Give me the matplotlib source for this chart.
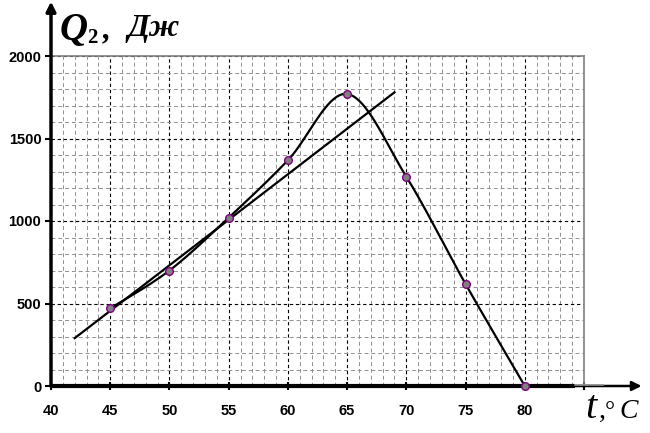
import numpy as np
import matplotlib.pyplot as plt
from matplotlib.ticker import MultipleLocator

# Data
temps = [45, 50, 55, 60, 65, 70, 75, 80]
heat = [470, 700, 1020, 1368, 1770, 1268, 618, 0]
trend_t = [42, 69]
trend_q = [290, 1780]


def smooth(xs, ys, n=40):
    # Excel-like smoothed line (Bezier through points)
    p = np.column_stack([xs, ys]).astype(float)
    p = np.vstack([p[0], p, p[-1]])
    out = []
    for i in range(1, len(p) - 2):
        p0, p1, p2, p3 = p[i - 1], p[i], p[i + 1], p[i + 2]
        c1 = p1 + (p2 - p0) / 6
        c2 = p2 - (p3 - p1) / 6
        s = np.linspace(0, 1, n)[:, None]
        seg = (1 - s) ** 3 * p1 + 3 * (1 - s) ** 2 * s * c1 + 3 * (1 - s) * s ** 2 * c2 + s ** 3 * p2
        out.append(seg)
    out = np.vstack(out)
    return out[:, 0], out[:, 1]


fig = plt.figure(figsize=(6.5, 4.33), dpi=100)
ax = fig.add_axes([51 / 650, 47 / 433, 533 / 650, 330 / 433])

ax.set_xlim(40, 85)
ax.set_ylim(0, 2000)

ax.xaxis.set_major_locator(MultipleLocator(5))
ax.xaxis.set_minor_locator(MultipleLocator(1))
ax.yaxis.set_major_locator(MultipleLocator(500))
ax.yaxis.set_minor_locator(MultipleLocator(100))

ax.grid(which='minor', color='#909090', linestyle=(0, (4, 3)), linewidth=0.7)
ax.grid(which='major', color='black', linestyle=(0, (3, 2.5)), linewidth=0.8)
ax.set_axisbelow(True)

ax.tick_params(which='minor', length=0)
ax.tick_params(axis='x', which='major', direction='inout', length=6, width=1.5, pad=10)
ax.tick_params(axis='y', which='major', direction='out', length=4, width=1.5, pad=3)
ax.set_xticks(range(40, 90, 5))
ax.set_xticklabels([str(v) for v in range(40, 85, 5)] + [''])
for lab in ax.get_xticklabels() + ax.get_yticklabels():
    lab.set_fontfamily('Liberation Sans')
    lab.set_fontweight('bold')
    lab.set_fontsize(10.5)

for side in ['top', 'right']:
    ax.spines[side].set_color('#808080')
    ax.spines[side].set_linewidth(1.2)
for side in ['left', 'bottom']:
    ax.spines[side].set_visible(False)

# thick axes with arrows
ax.annotate('', xy=(0, 1.165), xytext=(0, 0), xycoords='axes fraction',
            arrowprops=dict(arrowstyle='-|>', color='black', lw=2.5,
                            mutation_scale=14, shrinkA=0, shrinkB=0))
ax.plot([0, 0.983], [0, 0], transform=ax.transAxes, color='black',
        linewidth=3, clip_on=False, solid_capstyle='butt', zorder=5)
ax.annotate('', xy=(1.108, 0), xytext=(0.98, 0), xycoords='axes fraction',
            arrowprops=dict(arrowstyle='-|>', color='black', lw=1.8,
                            mutation_scale=14, shrinkA=0, shrinkB=0))
ax.plot([0.983, 1.035], [0.004, 0.004], transform=ax.transAxes, color='#909090',
        linewidth=1.2, clip_on=False, zorder=6)

sx, sy = smooth(temps, heat)
ax.plot(sx, sy, color='black', linewidth=1.6, zorder=3)
ax.plot(trend_t, trend_q, color='black', linewidth=1.6, zorder=3)
ax.plot(temps, heat, linestyle='none', marker='o', markersize=5.5,
        markerfacecolor='#808080', markeredgecolor='#800080',
        markeredgewidth=1, zorder=7, clip_on=False)

# axis titles
fig.text(60 / 650, 1 - 40 / 433, 'Q', fontfamily='Liberation Serif',
         fontstyle='italic', fontweight='bold', fontsize=28)
fig.text(87 / 650, 1 - 43 / 433, '2', fontfamily='Liberation Serif',
         fontweight='bold', fontsize=15)
fig.text(103 / 650, 1 - 38 / 433, ',', fontfamily='Liberation Serif',
         fontstyle='italic', fontweight='bold', fontsize=23)
fig.text(127 / 650, 1 - 36 / 433, 'Дж', fontfamily='Liberation Serif',
         fontstyle='italic', fontweight='bold', fontsize=23)
fig.text(585 / 650, 1 - 418 / 433, 't', fontfamily='Liberation Serif',
         fontstyle='italic', fontsize=29)
fig.text(599 / 650, 1 - 418 / 433, ',', fontfamily='Liberation Serif',
         fontsize=20)
fig.text(605 / 650, 1 - 418 / 433, '°', fontfamily='Liberation Serif',
         fontsize=18)
fig.text(619 / 650, 1 - 418 / 433, 'C', fontfamily='Liberation Serif',
         fontstyle='italic', fontsize=20)

fig.savefig('out.png', dpi=100)
